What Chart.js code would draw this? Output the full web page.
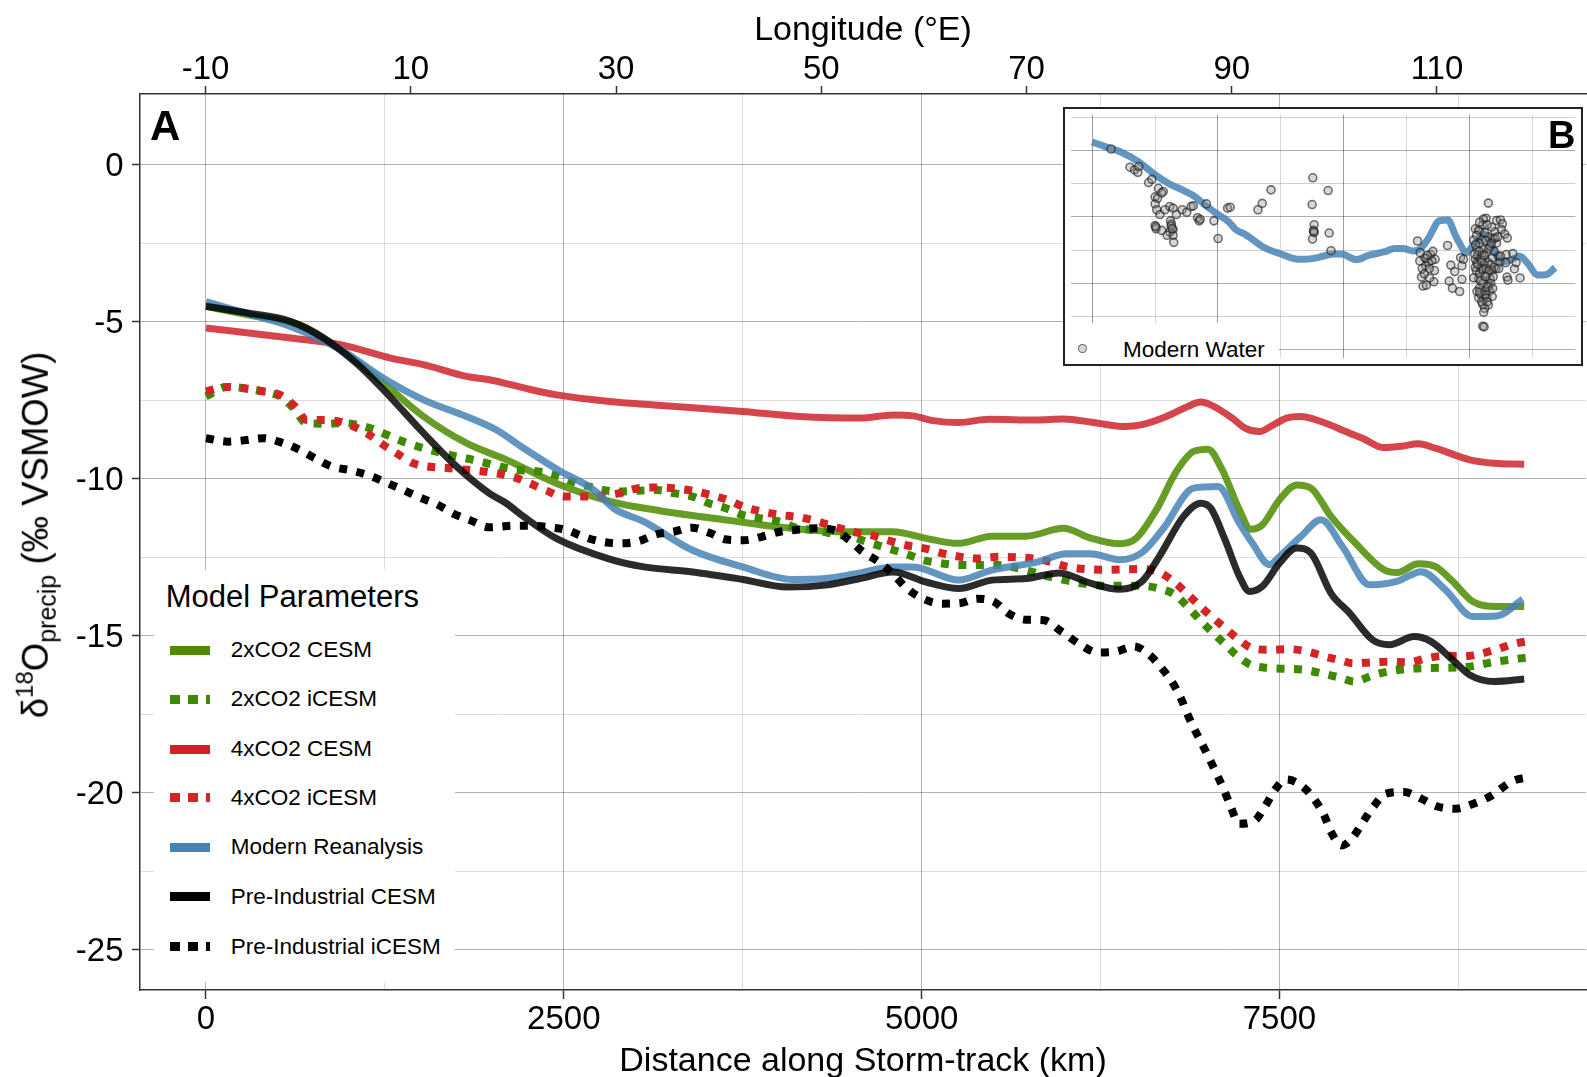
<!DOCTYPE html>
<html><head><meta charset="utf-8">
<script src="https://cdn.jsdelivr.net/npm/chart.js@4.4.1/dist/chart.umd.min.js"></script>
<style>
html,body{margin:0;padding:0;background:#fff;}
#wrap{position:relative;width:1587px;height:1077px;overflow:hidden;font-family:"Liberation Sans",Arial,Helvetica,sans-serif;color:#000;}
#main{position:absolute;left:0;top:0;}
.txt{position:absolute;white-space:nowrap;line-height:1;}
#ytitle{position:absolute;left:38px;top:535px;transform:translate(-50%,-50%) rotate(-90deg);font-size:36.5px;line-height:36.5px;white-space:nowrap;}
#ytitle .sup{font-size:24px;position:relative;top:-15px;}
#ytitle .sub{font-size:25px;position:relative;top:8px;}
#legend{position:absolute;left:154px;top:570px;width:301px;height:412px;background:#fff;}
#inset{position:absolute;left:1063px;top:107px;width:520px;height:259px;border:2px solid #222;box-sizing:border-box;background:#fff;}
#insetCanvas{position:absolute;left:0;top:0;}
#insetLegend{position:absolute;left:0;top:214px;width:214px;height:41px;background:#fff;}
</style></head><body>
<div id="wrap">
<canvas id="main" width="1587" height="1077"></canvas>
<div id="ytitle">δ<span class="sup">18</span>O<span class="sub">precip</span> (‰ VSMOW)</div>
<div class="txt" style="left:150px;top:104.5px;font-size:42px;font-weight:bold;">A</div>
<div id="legend"></div>
<div id="inset">
  <canvas id="insetCanvas" width="516" height="255"></canvas>
  <div id="insetLegend"></div>
  <div class="txt" style="left:483px;top:7px;font-size:38px;font-weight:bold;">B</div>
</div>
</div>
<script>
// ---------------- DATA ----------------
const distanceGrid = [0, 1250, 2500, 3750, 5000, 6250, 7500, 8750];
const distanceLabels = [0, 2500, 5000, 7500];
const lonTicks = [-10, 10, 30, 50, 70, 90, 110];
const deltaGrid = [-25, -22.5, -20, -17.5, -15, -12.5, -10, -7.5, -5, -2.5, 0];
const deltaLabels = [-25, -20, -15, -10, -5, 0];

const seriesNames = ['2xCO2 CESM', '2xCO2 iCESM', '4xCO2 CESM', '4xCO2 iCESM', 'Modern Reanalysis', 'Pre-Industrial CESM', 'Pre-Industrial iCESM'];

const co2x2CesmKm = [0, 300, 680, 940, 1240, 1520, 1820, 2100, 2450, 2830, 3170, 3640, 3990, 4450, 4800, 5030, 5260, 5490, 5730, 5990, 6180, 6380, 6500, 6640, 6780, 6900, 7000, 7100, 7220, 7300, 7380, 7500, 7620, 7720, 7860, 8030, 8230, 8320, 8470, 8590, 8710, 8850, 9020, 9210];
const co2x2CesmVal = [-4.5, -4.78, -5.14, -5.88, -6.95, -8.01, -8.86, -9.39, -10.14, -10.72, -11.01, -11.31, -11.52, -11.68, -11.68, -11.89, -12.05, -11.82, -11.82, -11.57, -11.88, -12.06, -11.88, -10.98, -9.76, -9.12, -9.05, -9.71, -10.98, -11.6, -11.46, -10.66, -10.19, -10.29, -11.19, -12.04, -12.89, -12.98, -12.7, -12.79, -13.26, -13.9, -14.06, -14.06];

const co2x2IcesmKm = [0, 144, 400, 517, 610, 703, 819, 959, 1145, 1378, 1634, 1867, 2146, 2379, 2640, 2883, 3150, 3278, 3400, 3517, 3637, 3753, 3881, 4009, 4136, 4264, 4392, 4508, 4636, 4764, 4880, 5018, 5146, 5274, 5529, 5773, 5900, 6014, 6147, 6267, 6524, 6651, 6771, 6861, 6947, 7012, 7108, 7197, 7300, 7428, 7678, 7805, 7933, 8022, 8142, 8262, 8515, 8767, 9020, 9265];
const co2x2IcesmVal = [-7.37, -7.07, -7.21, -7.37, -7.74, -8.22, -8.24, -8.22, -8.38, -8.81, -9.16, -9.39, -9.69, -9.8, -10.2, -10.4, -10.35, -10.46, -10.56, -10.78, -10.94, -11.15, -11.26, -11.36, -11.57, -11.63, -11.76, -11.84, -12.03, -12.21, -12.37, -12.59, -12.69, -12.74, -12.74, -12.96, -13.12, -13.23, -13.34, -13.4, -13.4, -13.48, -13.69, -14.08, -14.5, -14.8, -15.21, -15.6, -15.92, -16.02, -16.08, -16.2, -16.34, -16.45, -16.27, -16.13, -16.02, -16.0, -15.81, -15.67];

const co2x4CesmKm = [0, 590, 940, 1290, 1520, 1820, 1980, 2220, 2450, 2820, 3130, 3750, 4150, 4570, 4800, 4940, 5080, 5260, 5470, 5800, 5990, 6200, 6420, 6540, 6710, 6860, 6950, 7020, 7170, 7260, 7360, 7460, 7550, 7650, 7790, 7990, 8080, 8230, 8350, 8470, 8590, 8830, 9000, 9210];
const co2x4CesmVal = [-5.19, -5.51, -5.72, -6.15, -6.36, -6.73, -6.84, -7.1, -7.32, -7.53, -7.64, -7.85, -8.01, -8.06, -7.96, -7.99, -8.14, -8.2, -8.1, -8.12, -8.09, -8.2, -8.33, -8.27, -8.01, -7.69, -7.55, -7.64, -8.06, -8.38, -8.49, -8.27, -8.06, -8.01, -8.17, -8.54, -8.7, -9.0, -8.96, -8.88, -9.02, -9.39, -9.5, -9.53];

const co2x4IcesmKm = [0, 144, 400, 517, 621, 703, 819, 959, 1122, 1238, 1332, 1448, 1704, 1960, 2146, 2263, 2379, 2500, 2755, 2883, 3011, 3150, 3278, 3405, 3526, 3649, 3765, 3888, 4020, 4148, 4276, 4392, 4519, 4647, 4763, 4891, 5018, 5146, 5274, 5401, 5529, 5773, 5900, 6014, 6147, 6267, 6524, 6651, 6759, 6856, 6947, 7012, 7108, 7204, 7312, 7437, 7565, 7692, 7813, 7938, 8015, 8142, 8274, 8399, 8527, 8654, 8779, 8899, 9020, 9140, 9265];
const co2x4IcesmVal = [-7.21, -7.07, -7.21, -7.32, -7.69, -8.12, -8.12, -8.2, -8.54, -8.91, -9.18, -9.5, -9.66, -9.77, -9.93, -10.14, -10.37, -10.56, -10.54, -10.46, -10.3, -10.27, -10.3, -10.38, -10.51, -10.67, -10.9, -11.04, -11.15, -11.22, -11.36, -11.52, -11.68, -11.79, -11.95, -12.11, -12.21, -12.37, -12.48, -12.53, -12.48, -12.53, -12.64, -12.79, -12.87, -12.89, -12.87, -12.95, -13.26, -13.66, -14.06, -14.33, -14.7, -15.07, -15.39, -15.44, -15.42, -15.49, -15.65, -15.79, -15.87, -15.84, -15.82, -15.84, -15.71, -15.63, -15.65, -15.57, -15.42, -15.25, -15.14];

const modernKm = [0, 300, 590, 940, 1240, 1520, 1820, 2030, 2220, 2460, 2710, 2850, 3060, 3400, 3750, 4100, 4330, 4570, 4800, 4940, 5260, 5490, 5820, 6010, 6180, 6380, 6540, 6690, 6900, 7070, 7220, 7310, 7430, 7500, 7650, 7790, 7940, 8130, 8320, 8490, 8660, 8850, 9020, 9200];
const modernVal = [-4.35, -4.75, -5.14, -5.88, -6.79, -7.48, -8.01, -8.44, -9.02, -9.71, -10.35, -10.94, -11.36, -12.27, -12.8, -13.2, -13.17, -12.99, -12.8, -12.8, -13.22, -12.9, -12.63, -12.38, -12.38, -12.57, -12.34, -11.57, -10.29, -10.24, -11.41, -12.04, -12.73, -12.47, -11.83, -11.3, -12.15, -13.37, -13.26, -12.95, -13.53, -14.38, -14.36, -13.83];

const piCesmKm = [0, 300, 590, 820, 1050, 1240, 1520, 1750, 1980, 2100, 2220, 2450, 2820, 3060, 3400, 3750, 4060, 4330, 4570, 4800, 5030, 5260, 5490, 5730, 5960, 6180, 6380, 6540, 6660, 6830, 6950, 7020, 7120, 7220, 7290, 7380, 7500, 7620, 7720, 7860, 7990, 8150, 8270, 8440, 8560, 8710, 8830, 9000, 9210];
const piCesmVal = [-4.5, -4.72, -4.98, -5.51, -6.31, -7.16, -8.54, -9.6, -10.46, -10.78, -11.2, -11.9, -12.55, -12.8, -12.96, -13.2, -13.44, -13.38, -13.17, -12.96, -13.28, -13.49, -13.22, -13.17, -12.99, -13.32, -13.51, -13.26, -12.47, -11.19, -10.77, -10.93, -11.94, -13.1, -13.58, -13.42, -12.68, -12.2, -12.36, -13.64, -14.27, -15.12, -15.28, -15.02, -15.18, -15.76, -16.24, -16.45, -16.37];

const piIcesmKm = [0, 156, 284, 400, 528, 645, 761, 878, 1017, 1145, 1262, 1378, 1495, 1611, 1727, 1844, 1983, 2146, 2275, 2403, 2523, 2639, 2767, 2894, 3022, 3145, 3266, 3394, 3517, 3637, 3758, 3881, 4009, 4143, 4268, 4392, 4496, 4589, 4700, 4798, 4891, 5007, 5146, 5274, 5390, 5506, 5610, 5726, 5854, 5978, 6111, 6231, 6363, 6483, 6591, 6676, 6754, 6812, 6860, 6915, 6976, 7060, 7113, 7161, 7216, 7324, 7404, 7469, 7548, 7661, 7745, 7812, 7860, 7937, 8014, 8082, 8154, 8245, 8370, 8490, 8603, 8731, 8856, 8971, 9128, 9248];
const piIcesmVal = [-8.7, -8.81, -8.76, -8.7, -8.84, -9.05, -9.34, -9.6, -9.73, -9.9, -10.12, -10.35, -10.59, -10.8, -11.1, -11.31, -11.54, -11.49, -11.49, -11.54, -11.63, -11.84, -12.0, -12.05, -11.98, -11.76, -11.68, -11.55, -11.71, -11.93, -11.95, -11.84, -11.68, -11.61, -11.57, -11.63, -11.95, -12.32, -12.64, -13.01, -13.46, -13.81, -13.97, -13.95, -13.81, -13.91, -14.29, -14.48, -14.5, -14.86, -15.28, -15.53, -15.49, -15.33, -15.6, -16.02, -16.49, -16.99, -17.52, -18.05, -18.59, -19.38, -19.91, -20.45, -20.98, -20.89, -20.39, -19.89, -19.57, -19.79, -20.21, -20.71, -21.24, -21.67, -21.4, -20.93, -20.45, -20.02, -19.97, -20.18, -20.43, -20.5, -20.34, -20.11, -19.62, -19.49];

// Inset B: modern water samples (distance km, d18O)
const waterKm = [376, 752, 843, 908, 928, 1122, 1187, 1317, 1414, 1382,
 1252, 1252, 1284, 1349, 1447, 1544, 1609, 1674, 1790, 1881,
 1966, 2011, 1557, 1576, 1609, 1544, 1252, 1271, 1382, 1492,
 1609, 1622, 2095, 2128, 2147, 2270, 2420, 2504, 2692, 2744,
 3295, 3380, 3555, 4385, 4372, 4411, 4398, 4411, 4379, 4690,
 4710, 4747, 1570, 1590, 1265, 4405, 1300,
 6466, 6511, 6544, 6576, 6628, 6641, 6687, 6726, 6771, 6803,
 6790, 6706, 6609, 6641, 6816, 7063, 7095, 7128, 7160, 7206,
 7303, 7322, 7348, 7348, 7381,
 7874, 7828, 7776, 7614, 7698, 7582, 7647, 7614, 7647, 7634,
 7679, 7698, 7724, 7776, 7874, 7809, 7874, 7906, 7939, 7874,
 7841, 7906, 7971, 8004, 7939, 8036, 8114, 8153, 8133, 8198,
 8036, 8068, 8101, 8023, 7971, 7919, 7841, 7679, 7647, 7582,
 7614, 7711, 7776, 7744, 7679, 7763, 7789,
 7700, 7750, 7800, 7850, 7700, 7760, 7820, 7660, 7950, 7990,
 7730, 7870, 7800, 7900, 7760, 7950,
 8230, 8360, 8392, 8244, 8263, 8503, 8425, 8218, 8114, 8250,
 7620, 7660, 7690, 7720, 7740, 7770, 7790, 7810, 7830, 7860,
 7880, 7890, 7920, 7960, 7990, 8010, 7700, 7740, 7800, 7850,
 7780, 7820, 7760, 7640, 7600, 7930, 8060, 8080, 7700, 7850,
 6560, 6600, 6700, 6750, 6660, 6520];
const waterVal = [-4.88, -6.25, -6.45, -6.64, -6.2, -7.41, -7.17, -7.84, -8.08, -8.2,
 -8.49, -9.02, -9.46, -9.82, -9.46, -9.22, -9.34, -9.82, -9.46, -9.65,
 -9.22, -9.17, -10.3, -10.54, -10.95, -11.14, -10.66, -10.9, -11.02, -11.39,
 -11.39, -11.92, -10.06, -10.3, -10.18, -9.02, -10.3, -11.63, -9.34, -9.27,
 -9.46, -8.98, -7.96, -7.05, -9.07, -10.59, -11.02, -11.19, -11.67, -8.01,
 -11.22, -12.55, -10.7, -10.9, -10.75, -11.1, -8.6,
 -11.82, -13.33, -14.54, -15.22, -13.69, -13.16, -13.45, -12.84, -12.6, -14.05,
 -14.9, -14.61, -13.08, -15.15, -13.2, -12.16, -14.85, -13.64, -15.39, -14.13,
 -15.63, -13.08, -13.69, -14.71, -13.2,
 -8.96, -10.1, -10.17, -10.9, -11.07, -11.75, -12.48, -13.2, -13.43, -14.04,
 -14.65, -15.37, -15.86, -16.22, -16.64, -15.62, -15.13, -14.65, -14.04, -13.43,
 -12.7, -12.22, -11.61, -11.13, -10.76, -10.28, -10.23, -10.52, -10.96, -11.3,
 -11.98, -12.95, -13.43, -13.92, -14.52, -15.01, -16.1, -16.1, -15.62, -14.6,
 -13.8, -13.19, -12.46, -11.73, -11.0, -18.25, -18.3,
 -12.0, -12.9, -13.6, -14.3, -14.3, -15.0, -15.9, -12.9, -13.1, -12.6,
 -13.9, -11.5, -11.2, -15.6, -16.6, -16.0,
 -12.84, -12.77, -13.93, -14.54, -14.78, -14.61, -13.45, -13.45, -12.96, -11.6,
 -12.1, -13.6, -12.6, -14.8, -13.3, -14.0, -12.9, -14.5, -13.9, -15.3,
 -12.4, -14.0, -13.6, -15.4, -13.8, -11.6, -15.7, -16.4, -16.9, -16.4,
 -17.2, -11.8, -10.6, -11.4, -12.8, -12.0, -11.5, -13.9, -10.4, -10.6,
 -13.9, -14.3, -13.9, -13.3, -12.9, -12.7];

// ---------------- STYLE / CONFIG ----------------
const FONT = '"Liberation Sans", Arial, Helvetica, sans-serif';
Chart.defaults.font.family = FONT;
Chart.defaults.color = '#000';

const pts = (xs, ys) => xs.map((x, i) => ({x: x, y: ys[i]}));

const styles = [
  {line: 'rgba(76,140,0,0.85)',  legend: '#4c8c00', dotted: false},
  {line: '#3d8a00',              legend: '#3d8a00', dotted: true},
  {line: 'rgba(204,34,40,0.84)', legend: '#cc2228', dotted: false},
  {line: '#d42424',              legend: '#d42424', dotted: true},
  {line: 'rgba(70,130,180,0.85)',legend: '#4682b4', dotted: false},
  {line: 'rgba(0,0,0,0.83)',     legend: '#000',    dotted: false},
  {line: '#000',                 legend: '#000',    dotted: true}
];
const seriesData = [
  pts(co2x2CesmKm, co2x2CesmVal), pts(co2x2IcesmKm, co2x2IcesmVal),
  pts(co2x4CesmKm, co2x4CesmVal), pts(co2x4IcesmKm, co2x4IcesmVal),
  pts(modernKm, modernVal), pts(piCesmKm, piCesmVal), pts(piIcesmKm, piIcesmVal)
];

const datasets = seriesNames.map((name, i) => ({
  label: name,
  data: seriesData[i],
  borderColor: styles[i].line,
  backgroundColor: styles[i].line,
  borderWidth: styles[i].dotted ? 8 : 7,
  borderDash: styles[i].dotted ? [8, 9.5] : [],
  borderCapStyle: 'butt',
  borderJoinStyle: 'round',
  pointRadius: 0,
  fill: false,
  cubicInterpolationMode: 'monotone',
  order: seriesNames.length - 1 - i
}));

const MAJOR = 'rgba(0,0,0,0.30)';
const MINOR = 'rgba(0,0,0,0.13)';
const TICKC = '#333';

new Chart(document.getElementById('main'), {
  type: 'line',
  data: {datasets: datasets},
  options: {
    responsive: false, animation: false, devicePixelRatio: 1,
    layout: {padding: {left: 0, right: 1, top: 0, bottom: 0}},
    plugins: {legend: {display: false}, tooltip: {enabled: false}},
    scales: {
      x: {
        type: 'linear', position: 'bottom', min: -461, max: 9641.6,
        afterBuildTicks: s => { s.ticks = distanceGrid.map(v => ({value: v})); },
        afterFit: s => { s.height = 87; },
        ticks: {
          autoSkip: false, maxRotation: 0, includeBounds: false, padding: 4.5,
          font: {size: 33, lineHeight: 1}, color: '#000',
          callback: v => distanceLabels.includes(v) ? String(v) : ''
        },
        grid: {
          color: c => (c.tick && distanceLabels.includes(c.tick.value)) ? MAJOR : MINOR,
          lineWidth: 1, tickLength: 9, tickWidth: 1.5,
          tickColor: c => (c.tick && distanceLabels.includes(c.tick.value)) ? TICKC : 'rgba(0,0,0,0)'
        },
        border: {color: '#333', width: 1.5},
        title: {display: true, text: 'Distance along Storm-track (km)', color: '#000',
                font: {size: 34, lineHeight: 0.9}, padding: {top: 0, bottom: 0}}
      },
      x2: {
        type: 'linear', position: 'top', min: -16.39, max: 124.52,
        afterBuildTicks: s => { s.ticks = lonTicks.map(v => ({value: v})); },
        afterFit: s => { s.height = 94; },
        ticks: {autoSkip: false, maxRotation: 0, includeBounds: false, padding: -0.5,
                font: {size: 33, lineHeight: 1}, color: '#000'},
        grid: {drawOnChartArea: false, tickLength: 8, tickWidth: 1.5, tickColor: TICKC},
        border: {color: '#333', width: 1.5},
        title: {display: true, text: 'Longitude (°E)', color: '#000', font: {size: 34}, padding: {top: 10, bottom: 0}}
      },
      y: {
        type: 'linear', position: 'left', min: -26.274, max: 2.261,
        afterBuildTicks: s => { s.ticks = deltaGrid.map(v => ({value: v})); },
        afterFit: s => { s.width = 140; },
        ticks: {autoSkip: false, includeBounds: false, padding: 8.5, labelOffset: 1.5,
                font: {size: 33, lineHeight: 1}, color: '#000',
                callback: v => deltaLabels.includes(v) ? String(v) : ''},
        grid: {
          color: c => (c.tick && deltaLabels.includes(c.tick.value)) ? MAJOR : MINOR,
          lineWidth: 1, tickLength: 8, tickWidth: 1.5,
          tickColor: c => (c.tick && deltaLabels.includes(c.tick.value)) ? TICKC : 'rgba(0,0,0,0)'
        },
        border: {color: '#333', width: 1.5}
      }
    }
  }
});

// ---------------- LEGEND (HTML) ----------------
const legend = document.getElementById('legend');
const LX = 154, LY = 570;
const ttl = document.createElement('div');
ttl.className = 'txt';
ttl.style.cssText = `left:${165.7 - LX}px;top:${596.7 - 15.5 - LY}px;font-size:31px;`;
ttl.textContent = 'Model Parameters';
legend.appendChild(ttl);
const itemCenters = [650, 699.3, 749, 797.7, 847.3, 896.7, 946.7];
seriesNames.forEach((name, i) => {
  const c = itemCenters[i] - LY;
  const sw = document.createElement('div');
  const col = styles[i].legend;
  sw.style.cssText = `position:absolute;left:${170 - LX}px;top:${c - 4.5}px;width:40px;height:9px;` +
    (styles[i].dotted
      ? `background:repeating-linear-gradient(to right, ${col} 0px, ${col} 10px, transparent 10px, transparent 18px);`
      : `background:${col};`);
  legend.appendChild(sw);
  const t = document.createElement('div');
  t.className = 'txt';
  t.style.cssText = `left:${230.7 - LX}px;top:${c - 11}px;font-size:22.5px;`;
  t.textContent = name;
  legend.appendChild(t);
});

// ---------------- INSET B ----------------
const insetGridX = distanceGrid;
const insetMajorX = distanceLabels;
const insetGridY = [-20, -17.5, -15, -12.5, -10, -7.5, -5, -2.5];
const insetMajorY = [-20, -15, -10, -5];
new Chart(document.getElementById('insetCanvas'), {
  type: 'scatter',
  data: {datasets: [
    {type: 'scatter', label: 'Modern Water', data: pts(waterKm, waterVal),
     pointRadius: 4, pointBackgroundColor: 'rgba(140,140,140,0.35)',
     pointBorderColor: 'rgba(25,25,25,0.6)', pointBorderWidth: 1.6, order: 0},
    {type: 'line', label: 'Modern Reanalysis', data: pts(modernKm, modernVal),
     borderColor: 'rgba(70,130,180,0.85)', borderWidth: 7, pointRadius: 0, fill: false,
     cubicInterpolationMode: 'monotone', borderJoinStyle: 'round', order: 1}
  ]},
  options: {
    responsive: false, animation: false, devicePixelRatio: 1,
    layout: {padding: 0},
    plugins: {legend: {display: false}, tooltip: {enabled: false}},
    scales: {
      x: {type: 'linear', min: -427.7, max: 9603,
          afterBuildTicks: s => { s.ticks = insetGridX.map(v => ({value: v})); },
          afterFit: s => { s.height = 0; },
          ticks: {display: false},
          grid: {drawTicks: false, color: c => (c.tick && insetMajorX.includes(c.tick.value)) ? 'rgba(0,0,0,0.38)' : 'rgba(0,0,0,0.15)'},
          border: {display: false}},
      y: {type: 'linear', min: -20.68, max: -2.28,
          afterBuildTicks: s => { s.ticks = insetGridY.map(v => ({value: v})); },
          afterFit: s => { s.width = 0; },
          ticks: {display: false},
          grid: {drawTicks: false, color: c => (c.tick && insetMajorY.includes(c.tick.value)) ? 'rgba(0,0,0,0.32)' : 'rgba(0,0,0,0.18)'},
          border: {display: false}}
    }
  }
});
const il = document.getElementById('insetLegend');
const dot = document.createElement('div');
dot.style.cssText = 'position:absolute;left:12.5px;top:21px;width:7px;height:7px;border-radius:50%;background:rgba(140,140,140,0.35);border:1.6px solid rgba(25,25,25,0.6);';
il.appendChild(dot);
const wt = document.createElement('div');
wt.className = 'txt';
wt.style.cssText = 'left:58px;top:16px;font-size:22.5px;';
wt.textContent = 'Modern Water';
il.appendChild(wt);
</script>
</body></html>
